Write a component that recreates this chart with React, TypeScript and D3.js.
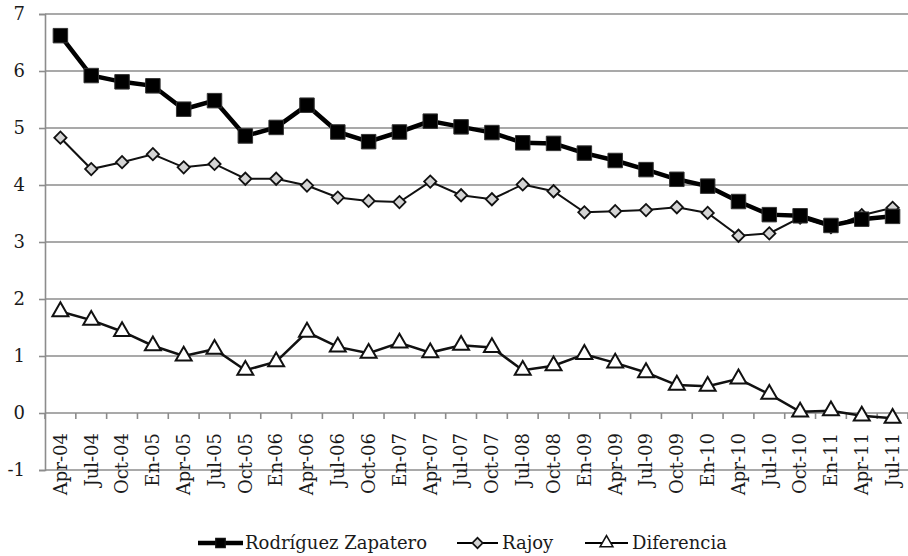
import React, { useEffect, useRef } from "react";
import * as d3 from "d3";

const categories = ["Apr-04","Jul-04","Oct-04","En-05","Apr-05","Jul-05","Oct-05","En-06","Apr-06","Jul-06","Oct-06","En-07","Apr-07","Jul-07","Oct-07","Jul-08","Oct-08","En-09","Apr-09","Jul-09","Oct-09","En-10","Apr-10","Jul-10","Oct-10","En-11","Apr-11","Jul-11"];
const zapatero = [6.62,5.92,5.81,5.74,5.33,5.48,4.86,5.01,5.40,4.93,4.76,4.93,5.12,5.02,4.92,4.74,4.73,4.56,4.43,4.27,4.10,3.98,3.71,3.48,3.46,3.29,3.40,3.45];
const rajoy = [4.83,4.28,4.40,4.54,4.31,4.37,4.11,4.11,3.99,3.78,3.72,3.70,4.06,3.82,3.75,4.01,3.89,3.52,3.54,3.56,3.61,3.51,3.11,3.15,3.43,3.26,3.47,3.60];
const diferencia = [1.78,1.63,1.43,1.18,1.00,1.12,0.75,0.90,1.42,1.16,1.05,1.23,1.06,1.19,1.15,0.75,0.83,1.03,0.88,0.71,0.49,0.47,0.60,0.33,0.02,0.04,-0.05,-0.09];
const yTicks = [-1, 0, 1, 2, 3, 4, 5, 6, 7];
const seriesNames = ["Rodríguez Zapatero", "Rajoy", "Diferencia"];

const W = 908, H = 556;
const FONT = "'DejaVu Serif', serif";

export default function App() {
  const ref = useRef<SVGSVGElement>(null);
  useEffect(() => {
    const svg = d3.select(ref.current);
    svg.selectAll("*").remove();
    const x = d3.scaleBand<string>().domain(categories).range([45, 908]);
    const y = d3.scaleLinear().domain([-1, 7]).range([470, 14]);
    const cx = (c: string) => (x(c) as number) + x.bandwidth() / 2;
    const grid = "#8c8c8c";

    // gridlines
    svg.append("g").selectAll("line").data(yTicks).join("line")
      .attr("x1", 45).attr("x2", 908)
      .attr("y1", (d) => y(d)).attr("y2", (d) => y(d))
      .attr("stroke", grid).attr("stroke-width", 1.6);

    // y axis
    const ya = svg.append("g").attr("transform", "translate(45,0)")
      .call(d3.axisLeft(y).tickValues(yTicks).tickSize(6).tickPadding(14).tickFormat((d) => String(d)));
    ya.select(".domain").attr("stroke", grid).attr("stroke-width", 1.6);
    ya.selectAll(".tick line").attr("stroke", grid).attr("stroke-width", 1.6);
    ya.selectAll(".tick text").attr("font-family", FONT).attr("font-size", 18).attr("fill", "#1a1a1a");

    // x axis at 0
    const y0 = y(0);
    const step = x.step();
    const bounds = d3.range(categories.length + 1).map((i) => 45 + i * step);
    svg.append("g").selectAll("line").data(bounds).join("line")
      .attr("x1", (d) => d).attr("x2", (d) => d)
      .attr("y1", y0).attr("y2", y0 + 6)
      .attr("stroke", grid).attr("stroke-width", 1.6);
    svg.append("g").selectAll("text").data(categories).join("text")
      .attr("transform", (d) => `translate(${cx(d)},${y0 + 20}) rotate(-90)`)
      .attr("text-anchor", "end").attr("dy", "0.35em")
      .attr("font-family", FONT).attr("font-size", 18).attr("fill", "#1a1a1a")
      .text((d) => d);

    const line = d3.line<number>().x((_, i) => cx(categories[i])).y((d) => y(d));

    // Diferencia
    svg.append("path").attr("d", line(diferencia)).attr("fill", "none")
      .attr("stroke", "#111").attr("stroke-width", 2.5);
    const tri = d3.symbol().type(d3.symbolTriangle).size(110)();
    svg.append("g").selectAll("path").data(diferencia).join("path")
      .attr("d", tri)
      .attr("transform", (d, i) => `translate(${cx(categories[i])},${y(d)})`)
      .attr("fill", "#fff").attr("stroke", "#111").attr("stroke-width", 2);

    // Rajoy
    svg.append("path").attr("d", line(rajoy)).attr("fill", "none")
      .attr("stroke", "#111").attr("stroke-width", 2);
    const dia = d3.symbol().type(d3.symbolSquare).size(75)();
    svg.append("g").selectAll("path").data(rajoy).join("path")
      .attr("d", dia)
      .attr("transform", (d, i) => `translate(${cx(categories[i])},${y(d)}) rotate(45)`)
      .attr("fill", "#d4d4d4").attr("stroke", "#111").attr("stroke-width", 1.8);

    // Zapatero
    svg.append("path").attr("d", line(zapatero)).attr("fill", "none")
      .attr("stroke", "#000").attr("stroke-width", 4.5);
    const sq = d3.symbol().type(d3.symbolSquare).size(210)();
    svg.append("g").selectAll("path").data(zapatero).join("path")
      .attr("d", sq)
      .attr("transform", (d, i) => `translate(${cx(categories[i])},${y(d)})`)
      .attr("fill", "#000").attr("stroke", "#333").attr("stroke-width", 1);

    // legend
    const ly = 543;
    const leg = [
      { x1: 198, x2: 243, tx: 245, sw: 4.5, sym: sq, rot: 0, size: 0.65, fill: "#000" },
      { x1: 457, x2: 498, tx: 502, sw: 2, sym: dia, rot: 45, size: 0.85, fill: "#d4d4d4" },
      { x1: 585, x2: 628, tx: 632, sw: 2, sym: tri, rot: 0, size: 0.8, fill: "#fff" },
    ];
    leg.forEach((l, i) => {
      const g = svg.append("g");
      g.append("line").attr("x1", l.x1).attr("x2", l.x2).attr("y1", ly).attr("y2", ly)
        .attr("stroke", "#000").attr("stroke-width", l.sw);
      g.append("path").attr("d", l.sym)
        .attr("transform", `translate(${(l.x1 + l.x2) / 2},${ly}) rotate(${l.rot}) scale(${l.size})`)
        .attr("fill", l.fill).attr("stroke", "#111").attr("stroke-width", 2);
      g.append("text").attr("x", l.tx).attr("y", ly).attr("dy", "0.35em")
        .attr("font-family", FONT).attr("font-size", 18).attr("fill", "#1a1a1a")
        .text(seriesNames[i]);
    });
  }, []);
  return (
    <svg ref={ref} width={W} height={H}
      style={{ position: "absolute", left: 0, top: 0, background: "#fff" }} />
  );
}
